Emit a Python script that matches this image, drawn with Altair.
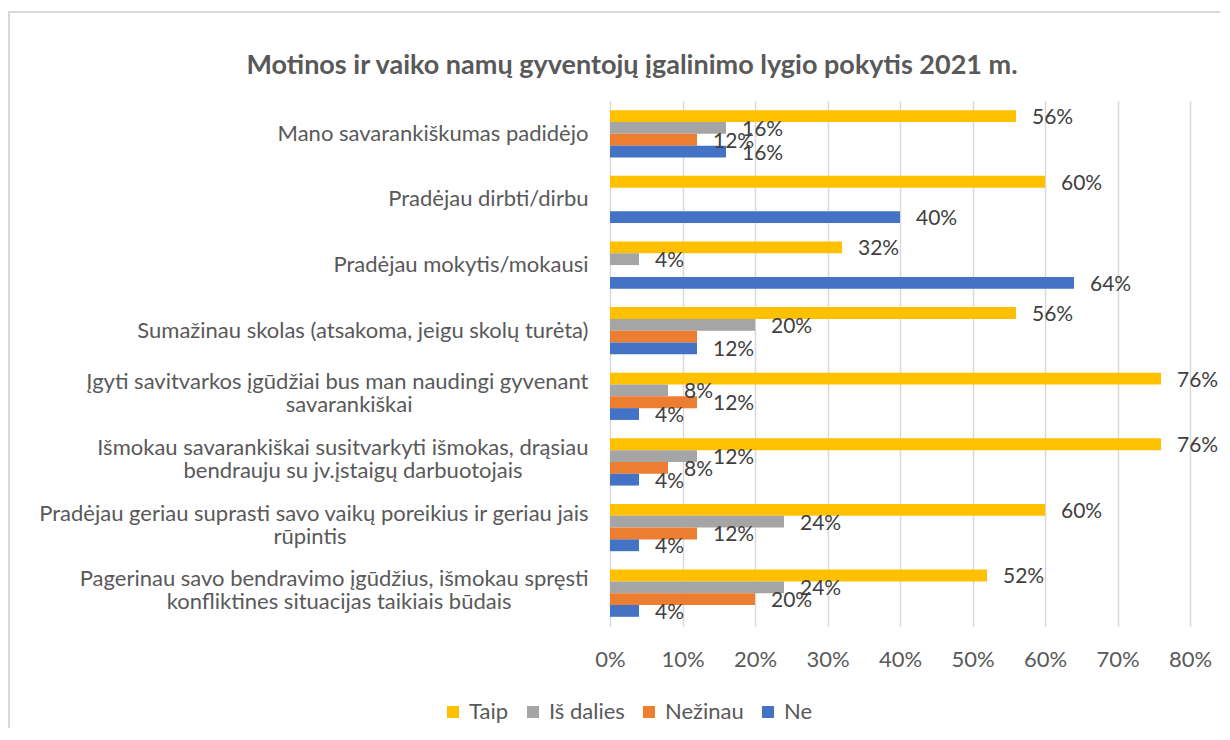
import altair as alt
import pandas as pd

# ---------------- data ----------------
categories = [
    ["Mano savarankiškumas padidėjo"],
    ["Pradėjau dirbti/dirbu"],
    ["Pradėjau mokytis/mokausi"],
    ["Sumažinau skolas (atsakoma, jeigu skolų turėta)"],
    ["Įgyti savitvarkos įgūdžiai bus man naudingi gyvenant", "savarankiškai"],
    ["Išmokau savarankiškai susitvarkyti išmokas, drąsiau", "bendrauju su jv.įstaigų darbuotojais"],
    ["Pradėjau geriau suprasti savo vaikų poreikius ir geriau jais", "rūpintis"],
    ["Pagerinau savo bendravimo įgūdžius, išmokau spręsti", "konfliktines situacijas taikiais būdais"],
]
series = ["Taip", "Iš dalies", "Nežinau", "Ne"]
taip = [56, 60, 32, 56, 76, 76, 60, 52]
is_dalies = [16, 0, 4, 20, 8, 12, 24, 24]
nezinau = [12, 0, 0, 12, 12, 8, 12, 20]
ne = [16, 40, 64, 12, 4, 4, 4, 4]
hidden_labels = [(3, "Nežinau")]
x_ticks = [0, 10, 20, 30, 40, 50, 60, 70, 80]
title_text = "Motinos ir vaiko namų gyventojų įgalinimo lygio pokytis 2021 m."

# ---------------- styling ----------------
colors = ["#FFC000", "#A5A5A5", "#ED7D31", "#4472C4"]
FONT = "Lato"
TEXT_COLOR = "#595959"
GRID = "#D9D9D9"
FS = 22
# centring of the second line of wrapped labels (in en-spaces)
second_line_pad = {4: 16, 5: 6, 6: 22, 7: 7}


def label_key(i, lines):
    if len(lines) == 1:
        return lines[0]
    return lines[0] + "|" + lines[1] + "\u2002" * second_line_pad.get(i, 0) + "\u200b"


cat_keys = [label_key(i, c) for i, c in enumerate(categories)]
values = [taip, is_dalies, nezinau, ne]

rows = []
for si, s in enumerate(series):
    for ci, key in enumerate(cat_keys):
        v = values[si][ci]
        lab = "" if (v == 0 or (ci, s) in hidden_labels) else f"{v}%"
        rows.append({"cat": key, "series": s, "value": v, "label": lab})
df = pd.DataFrame(rows)

y_enc = alt.Y(
    "cat:N",
    sort=cat_keys,
    scale=alt.Scale(paddingInner=0.28, paddingOuter=0.14),
    axis=alt.Axis(
        title=None,
        domain=False,
        ticks=False,
        labelExpr="split(datum.label, '|')",
        labelFont=FONT,
        labelFontSize=FS,
        labelColor=TEXT_COLOR,
        labelPadding=22,
        labelLimit=0,
        labelLineHeight=23,
        labelOffset={"condition": {"test": "indexof(datum.value, '|') >= 0", "value": -14}, "value": 0},
    ),
)
yoff = alt.YOffset("series:N", sort=series, scale=alt.Scale(paddingInner=0, paddingOuter=0))
x_enc = alt.X(
    "value:Q",
    scale=alt.Scale(domain=[0, 80], nice=False),
    axis=alt.Axis(
        title=None,
        values=x_ticks,
        labelExpr="datum.value + '%'",
        domain=False,
        ticks=False,
        grid=True,
        gridColor=GRID,
        gridWidth=1.5,
        labelFont=FONT,
        labelFontSize=FS,
        labelColor=TEXT_COLOR,
        labelPadding=23,
        labelFlush=False,
        labelOverlap=False,
    ),
)

bars = alt.Chart(df).mark_bar().encode(
    y=y_enc,
    yOffset=yoff,
    x=x_enc,
    color=alt.Color(
        "series:N",
        sort=series,
        scale=alt.Scale(domain=series, range=colors),
        legend=alt.Legend(
            title=None,
            orient="none",
            legendX=-168,
            legendY=600,
            direction="horizontal",
            columns=4,
            symbolType="square",
            symbolSize=144,
            symbolStrokeWidth=0,
            labelFont=FONT,
            labelFontSize=FS,
            labelColor=TEXT_COLOR,
            columnPadding=13,
            labelOffset=5,
        ),
    ),
)

labels = (
    alt.Chart(df)
    .transform_filter("datum.label != ''")
    .mark_text(align="left", baseline="middle", dx=16, dy=2, font=FONT, fontSize=21, color="#404040")
    .encode(y=alt.Y("cat:N", sort=cat_keys), yOffset=alt.YOffset("series:N", sort=series), x="value:Q", text="label:N")
)

frame_top = alt.Chart(df).mark_rule(color=GRID, strokeWidth=1.5).encode(
    x=alt.value(-602), x2=alt.value(620), y=alt.value(-89)
)
frame_left = alt.Chart(df).mark_rule(color=GRID, strokeWidth=1.5).encode(
    x=alt.value(-601), y=alt.value(-89), y2=alt.value(640)
)

chart = (
    alt.layer(bars, labels, frame_top, frame_left)
    .properties(
        width=580,
        height=525,
        padding={"left": 602, "top": 93, "right": 30, "bottom": 102},
        autosize=alt.AutoSizeParams(type="none"),
        title=alt.TitleParams(
            title_text,
            font=FONT,
            fontSize=27,
            fontWeight="bold",
            color=TEXT_COLOR,
            anchor="middle",
            frame="group",
            baseline="alphabetic",
            dx=-268,
            dy=90,
            offset=0,
        ),
    )
    .configure_view(stroke=None)
)

chart.save("out.html", embed_options={"renderer": "svg", "actions": False})
